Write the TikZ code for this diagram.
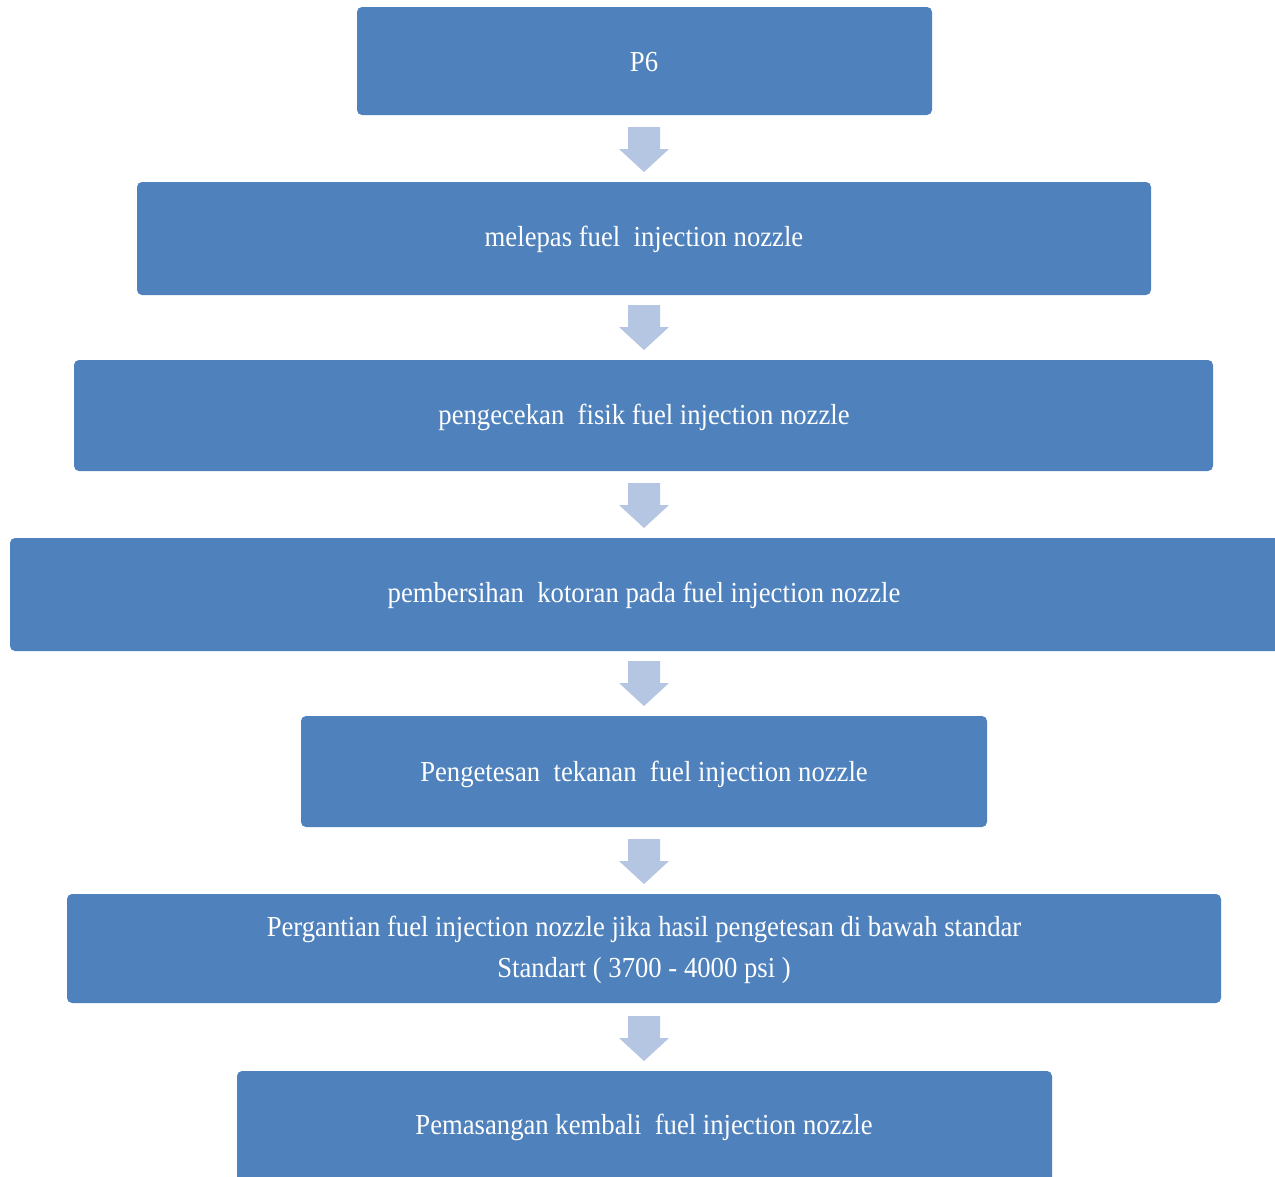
\documentclass[tikz,border=0pt]{standalone}
\usepackage{fontspec}
\setmainfont{Liberation Serif}[FakeStretch=0.92]
\begin{document}
\begin{tikzpicture}[x=1pt,y=-1pt,
  stepbox/.style={fill=boxblue,draw=none,rounded corners=5pt},
  lbl/.style={text=white,font=\fontsize{29}{33}\selectfont,anchor=center,inner sep=0pt},
  flowarrow/.style={fill=arrowblue,draw=none}]
\definecolor{boxblue}{HTML}{4F81BD}
\definecolor{arrowblue}{HTML}{B4C6E2}
\useasboundingbox (0,0) rectangle (1275,1176);
% process boxes
\fill[stepbox] (357,7) rectangle (932,115);
\node[lbl] (p6) at (644,62) {P6};
\fill[stepbox] (137,182) rectangle (1151,295);
\node[lbl] (s1) at (644,239) {melepas fuel\ \ injection nozzle};
\fill[stepbox] (74,360) rectangle (1213,471);
\node[lbl] (s2) at (644,417) {pengecekan\ \ fisik fuel injection nozzle};
\fill[stepbox] (10,538) rectangle (1285,651);
\node[lbl] (s3) at (644,595) {pembersihan\ \ kotoran pada fuel injection nozzle};
\fill[stepbox] (301,716) rectangle (987,827);
\node[lbl] (s4) at (644,774) {Pengetesan\ \ tekanan\ \ fuel injection nozzle};
\fill[stepbox] (67,894) rectangle (1221,1003);
\node[lbl] (s5a) at (644,929) {Pergantian fuel injection nozzle jika hasil pengetesan di bawah standar};
\node[lbl] (s5b) at (644,971) {Standart ( 3700 - 4000 psi )};
\fill[stepbox] (237,1071) rectangle (1052,1196);
\node[lbl] (s6) at (644,1127) {Pemasangan kembali\ \ fuel injection nozzle};
% down arrows between the steps
\foreach \t in {127,305,483,661,839,1016}{
  \fill[flowarrow] (628,\t) -- (660,\t) -- (660,\t+22) -- (669,\t+22)
    -- (644,\t+45) -- (619,\t+22) -- (628,\t+22) -- cycle;
}
\end{tikzpicture}
\end{document}
